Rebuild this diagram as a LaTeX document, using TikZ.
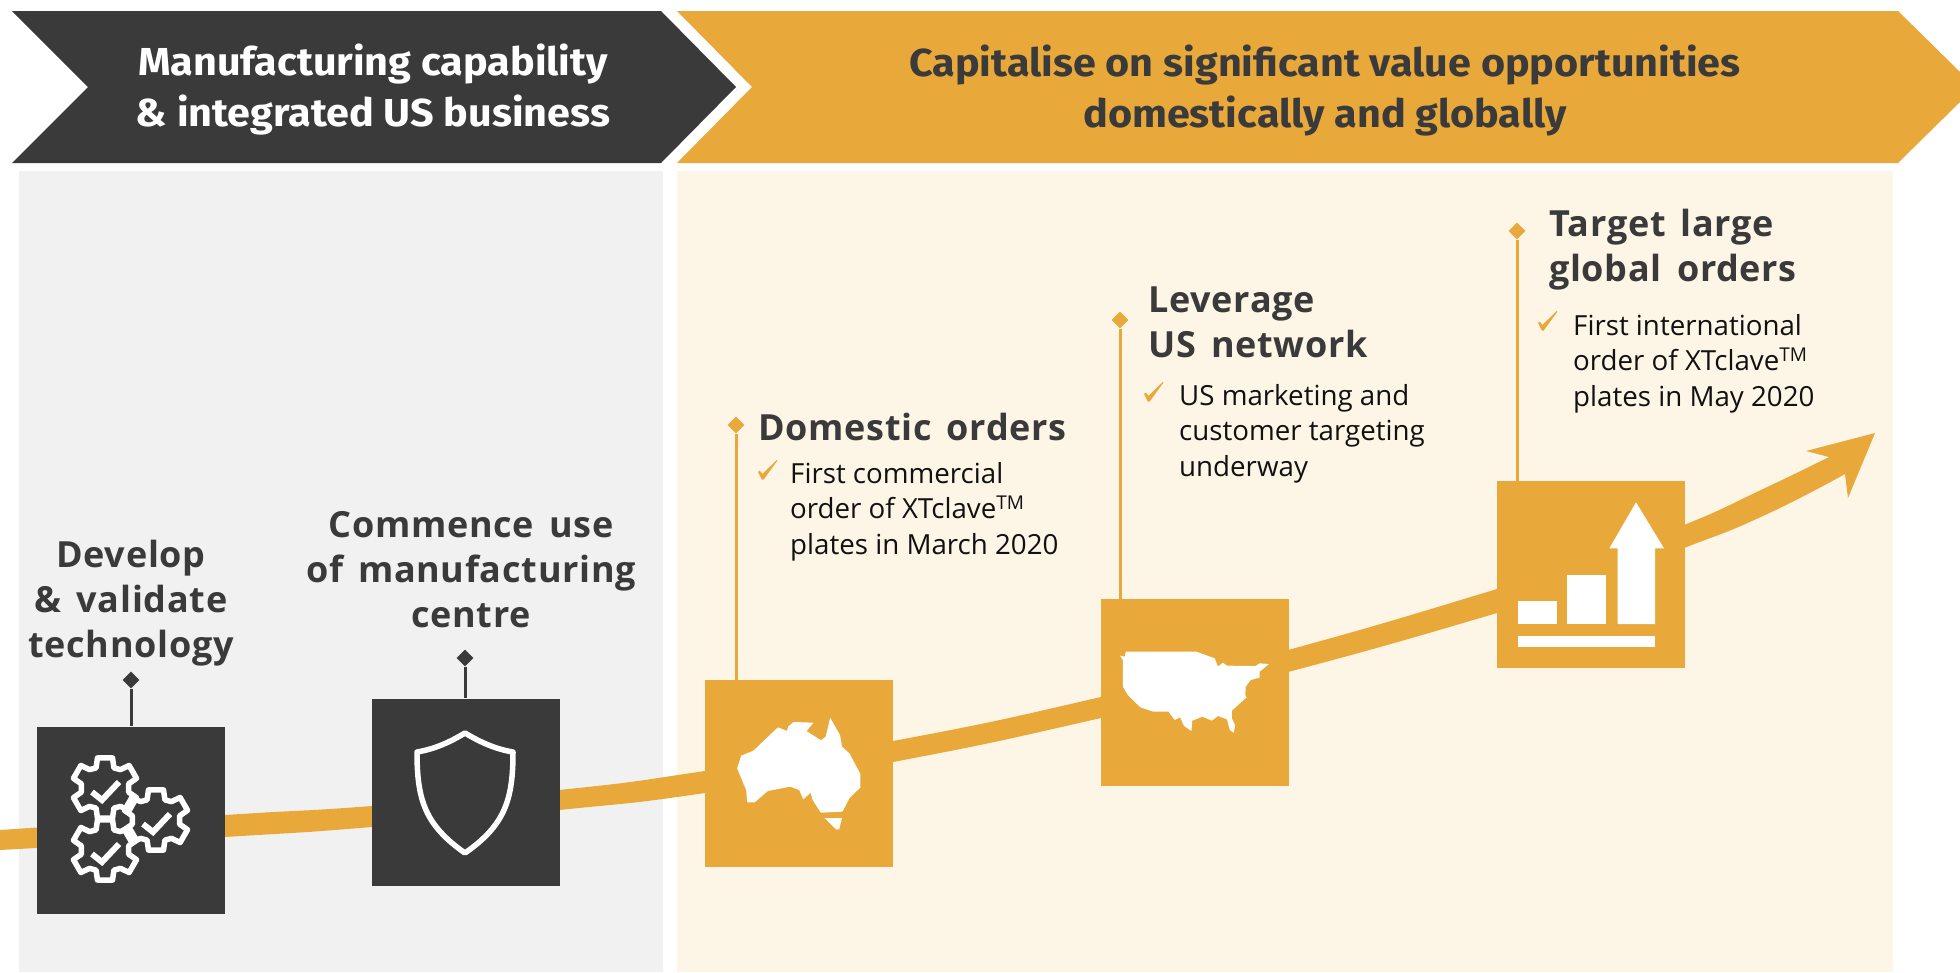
\documentclass[tikz,border=0pt]{standalone}
\usepackage{fontspec}
\usetikzlibrary{shapes.geometric}
\setmainfont{Open Sans}
\newfontfamily\hdfont[FakeStretch=1.06]{Fira Sans}
\newfontfamily\mainhd[LetterSpace=2,WordSpace=1.5]{Open Sans}
\newfontfamily\bodyf{Open Sans}
\definecolor{dk}{HTML}{3A3A3A}
\definecolor{org}{HTML}{E8A93A}
\definecolor{pl}{HTML}{F1F1F1}
\definecolor{pr}{HTML}{FDF5E6}
\definecolor{txt}{HTML}{111111}
\tikzset{
  x=1pt,y=-1pt,
  iconbox/.style={draw=none,inner sep=0pt,minimum width=187.5pt,minimum height=187pt,anchor=north west},
  darkbox/.style={iconbox,fill=dk},
  orgbox/.style={iconbox,fill=org},
  dmd/.style={diamond,inner sep=0pt,minimum width=17pt,minimum height=17pt},
  stem/.style={line width=3pt},
  banner/.style={font=\hdfont\bfseries\fontsize{39}{51}\selectfont,align=center,anchor=center,inner sep=0pt},
  stage/.style={font=\mainhd\bfseries\fontsize{36}{45}\selectfont,text=dk,inner sep=0pt},
  bullet/.style={font=\bodyf\fontsize{27.7}{35.7}\selectfont,text=txt,align=left,anchor=north west,inner sep=0pt},
  tick/.pic={\fill[org] (-10,1) -- (-8.2,-0.4) -- (-5.6,3) -- (8.6,-11) -- (9.4,-10.4) -- (-4.4,8.6) -- (-6.2,8.6) -- cycle;},
  gearout/.style={draw=white,line width=5.5pt,line join=round,line cap=round},
}
\newcommand{\tm}{\textsuperscript{\fontsize{19}{19}\selectfont TM}}
\newcommand{\gearat}[2]{%
  \begin{scope}[shift={(#1,#2)}]
   \draw[gearout] (90-14:31) -- (90+14:31)
     -- (90+24:22) -- (150-20:24) -- (150-13:33) -- (150+13:33) -- (150+20:24)
     -- (210-20:24) -- (210-13:33) -- (210+13:33) -- (210+20:24)
     -- (270-24:22) -- (270-14:31) -- (270+14:31) -- (270+24:22)
     -- (330-20:24) -- (330-13:33) -- (330+13:33) -- (330+20:24)
     -- (30-20:24) -- (30-13:33) -- (30+13:33) -- (30+20:24) -- (90-24:22) -- cycle;
   \draw[draw=white,line width=6pt] (-13,4) -- (-3,12) -- (14,-6);
  \end{scope}}
\begin{document}
\begin{tikzpicture}
\useasboundingbox (0,0) rectangle (1960,972);
\fill[white] (0,0) rectangle (1960,972);
% panels
\fill[pl] (19,171) rectangle (663,972);
\fill[pr] (677,171) rectangle (1893,972);
% banners
\fill[dk] (12,11) -- (661,11) -- (736,87) -- (661,163) -- (12,163) -- (88,87) -- cycle;
\fill[org] (677,11) -- (1898,11) -- (1960,72) -- (1960,102) -- (1898,163) -- (677,163) -- (752,87) -- cycle;
\node[banner,text=white] (b1) at (373,90) {Manufacturing capability\\\& integrated US business};
\node[banner,text=dk] (b2) at (1325,91) {Capitalise on significant value opportunities\\domestically and globally};
% growth arrow band
\fill[org] plot[smooth,tension=0.9] coordinates {(0,830) (225,815) (372,806) (559,790) (705,771) (893,741) (1101,697) (1288,650) (1497,589) (1590,559) (1684,525) (1763,489) (1829,457)}
  -- (1806,451) -- (1875,433) -- (1848,498) -- (1845,474)
  -- plot[smooth,tension=0.9] coordinates {(1845,474) (1763,516) (1684,548) (1590,583) (1497,613) (1288,672) (1101,718) (893,762) (705,793) (559,810) (372,827) (225,837) (0,850)} -- cycle;
% icon boxes
\node[darkbox] (box1) at (37,726.5) {};
\node[darkbox] (box2) at (372,698.5) {};
\node[orgbox] (box3) at (705,680) {};
\node[orgbox] (box4) at (1101,599) {};
\node[orgbox] (box5) at (1497,481) {};
% stems + diamonds
\node[dmd,fill=dk] (d1) at (131,680) {};
\node[dmd,fill=dk] (d2) at (465,658) {};
\node[dmd,fill=org] (d3) at (736,425) {};
\node[dmd,fill=org] (d4) at (1120,320) {};
\node[dmd,fill=org] (d5) at (1517,231) {};
\coordinate (s1) at (131,726);
\coordinate (s2) at (465,698);
\coordinate (s3) at (736,680);
\coordinate (s4) at (1120,599);
\coordinate (s5) at (1517,481);
\draw[stem,dk] (d1) -- (s1);
\draw[stem,dk] (d2) -- (s2);
\draw[stem,org] (d3) -- (s3);
\draw[stem,org] (d4) -- (s4);
\draw[stem,org] (d5) -- (s5);
% gears
\gearat{105}{788}
\gearat{156}{820}
\gearat{105}{850}
% shield
\draw[white,line width=5.5pt,line join=round] (465,733) .. controls (450,742) and (435,749) .. (417,752)
  .. controls (417,800) and (425,825) .. (465,853) .. controls (505,825) and (513,800) .. (513,752)
  .. controls (495,749) and (480,742) .. (465,733) -- cycle;
% Australia
\begin{scope}[shift={(680,590)},x=0.40816pt,y=-0.33333pt]
\fill[white] (140,535)--(150,497)--(180,482)--(203,455)--(240,412)--(262,423)--(265,410)--(278,396)--(327,398)--(310,423)--(345,451)--(357,440)--(368,383)--(378,405)--(392,435)--(397,470)--(415,490)--(442,552)--(442,592)--(415,625)--(398,665)--(345,668)--(325,630)--(320,608)--(302,628)--(292,600)--(270,590)--(215,603)--(183,637)--(165,637)--(162,600)--cycle;
\fill[white] (354,684)--(397,684)--(390,718)--(382,718)--cycle;
% USA
\fill[white] (1078,197)--(1090,200)--(1092,185)--(1265,185)--(1310,205)--(1318,230)--(1330,218)--(1340,227)--(1410,228)--(1420,220)--(1443,222)--(1420,245)--(1420,263)--(1398,270)--(1386,290)--(1385,315)--(1388,322)--(1352,362)--(1352,385)--(1360,405)--(1357,428)--(1347,420)--(1340,388)--(1318,378)--(1303,392)--(1280,380)--(1255,392)--(1253,423)--(1235,408)--(1225,382)--(1212,390)--(1197,365)--(1160,365)--(1128,352)--(1097,315)--(1085,290)--(1085,210)--cycle;
\end{scope}
% chart
\begin{scope}[shift={(1480,200)},x=0.33333pt,y=-0.33333pt]
\fill[white] (114,1307) rectangle (525,1340);
\fill[white] (114,1203) rectangle (230,1272);
\fill[white] (262,1124) rectangle (377,1272);
\fill[white] (413,1272) -- (413,1045) -- (388,1045) -- (468,907) -- (552,1045) -- (525,1045) -- (525,1272) -- cycle;
\end{scope}
% stage headings
\node[stage,align=center,anchor=center] (t1) at (131,603) {Develop\\\& validate\\technology};
\node[stage,align=center,anchor=center] (t2) at (471,570) {Commence use\\of manufacturing\\centre};
\node[stage,anchor=base west] (t3) at (758,440) {Domestic orders};
\node[stage,align=left,anchor=west] (t4) at (1148,322) {Leverage\\US network};
\node[stage,align=left,anchor=west] (t5) at (1549,250) {Target large\\global orders};
% bullets
\pic at (1154,393) {tick};
\pic at (1548,322) {tick};
\pic at (768,471) {tick};
\node[bullet] (x3) at (790,462) {First commercial\\order of XTclave\tm\\plates in March 2020};
\node[bullet] (x4) at (1179,384) {US marketing and\\customer targeting\\underway};
\node[bullet] (x5) at (1573,314) {First international\\order of XTclave\tm\\plates in May 2020};
\end{tikzpicture}
\end{document}
